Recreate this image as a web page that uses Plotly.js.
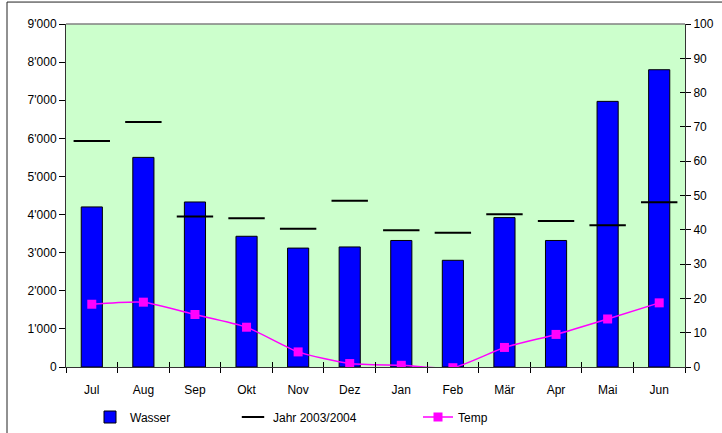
<!DOCTYPE html>
<html>
<head>
<meta charset="utf-8">
<script src="https://cdn.plot.ly/plotly-3.0.1.min.js"></script>
<style>html,body{margin:0;padding:0;background:#fff;}#chart{width:722px;height:433px;}</style>
</head>
<body>
<div id="chart"></div>
<script>
const months = ['Jul','Aug','Sep','Okt','Nov','Dez','Jan','Feb','Mär','Apr','Mai','Jun'];
const wasser = [4200,5500,4330,3430,3120,3150,3320,2800,3920,3320,6970,7800];
const jahr0304 = [5930,6430,3950,3900,3630,4360,3590,3520,4010,3830,3720,4320];
const temp = [18.3,18.9,15.3,11.6,4.4,1.0,0.5,-0.2,5.7,9.5,14.0,18.7];
const leftTicks = [0,1000,2000,3000,4000,5000,6000,7000,8000,9000];
const rightTicks = [0,10,20,30,40,50,60,70,80,90,100];

const font = {family:'"Liberation Sans", Arial, sans-serif', size:12, color:'#000'};
const legY = 1 - 417/433;

const traces = [
  {type:'bar', name:'Wasser', x:months, y:wasser, width:0.41,
   marker:{color:'#0000FF', line:{color:'#000', width:1}}, legend:'legend', yaxis:'y'},
  {type:'scatter', mode:'markers', name:'Jahr 2003/2004', x:months, y:jahr0304,
   marker:{symbol:'line-ew', size:26, line:{color:'#000', width:2}}, legend:'legend2', yaxis:'y'},
  {type:'scatter', mode:'lines+markers', name:'Temp', x:months, y:temp, yaxis:'y2',
   line:{color:'#FF00FF', width:1.5, shape:'spline', smoothing:0.6},
   marker:{symbol:'square', size:9, color:'#FF00FF'}, legend:'legend3'}
];

const layout = {
  width:722, height:433,
  margin:{l:66, r:37, t:24, b:66},
  paper_bgcolor:'#fff', plot_bgcolor:'#CCFFCC',
  font:font,
  separators:".'",
  showlegend:true,
  xaxis:{type:'category', showgrid:false, showline:true, linecolor:'#333', linewidth:1,
         ticks:'outside', ticklen:5, tickcolor:'#000', tickson:'boundaries', tickfont:font,
         ticklabelstandoff:12, range:[-0.5,11.5], zeroline:false},
  xaxis2:{type:'category', overlaying:'x', showgrid:false, showline:false,
          ticks:'inside', ticklen:5, tickcolor:'#000', tickson:'boundaries', showticklabels:false,
          range:[-0.5,11.5], matches:'x'},
  yaxis:{range:[0,9000], tickvals:leftTicks, separatethousands:true, tickformat:',d',
         showgrid:false, zeroline:false, showline:true, linecolor:'#333', linewidth:1,
         ticks:'outside', ticklen:6, tickcolor:'#000', tickfont:font},
  yaxis2:{range:[0,100], tickvals:rightTicks, overlaying:'y', side:'right',
          showgrid:false, zeroline:false, showline:true, linecolor:'#333', linewidth:1,
          ticks:'outside', ticklen:5, tickcolor:'#000', tickfont:font},
  yaxis3:{range:[0,100], tickvals:rightTicks, overlaying:'y', side:'right',
          showgrid:false, zeroline:false, showline:false, showticklabels:false,
          ticks:'inside', ticklen:5, tickcolor:'#000'},
  legend:{orientation:'h', xref:'container', yref:'container', x:90/722, y:legY, xanchor:'left', yanchor:'middle', font:font, bgcolor:'rgba(0,0,0,0)'},
  legend2:{orientation:'h', xref:'container', yref:'container', x:233/722, y:legY, xanchor:'left', yanchor:'middle', font:font, bgcolor:'rgba(0,0,0,0)'},
  legend3:{orientation:'h', xref:'container', yref:'container', x:418/722, y:legY, xanchor:'left', yanchor:'middle', font:font, bgcolor:'rgba(0,0,0,0)'},
  shapes:[
    {type:'line', xref:'paper', yref:'paper', x0:0, x1:1, y0:1, y1:1, line:{color:'#808080', width:1.5}},
    {type:'line', xref:'paper', yref:'paper', x0:-0.0953, x1:-0.0953, y0:-0.2, y1:1.064, line:{color:'#222', width:1}},
    {type:'line', xref:'paper', yref:'paper', x0:-0.0953, x1:1.07, y0:1.064, y1:1.064, line:{color:'#222', width:1}}
  ]
};

// invisible trace to activate overlay axes for cross ticks
traces.push({type:'scatter', x:[months[0]], y:[0], xaxis:'x2', yaxis:'y3', mode:'markers',
             marker:{opacity:0}, showlegend:false, hoverinfo:'skip'});

Plotly.newPlot('chart', traces, layout, {staticPlot:true, displayModeBar:false});
</script>
</body>
</html>
